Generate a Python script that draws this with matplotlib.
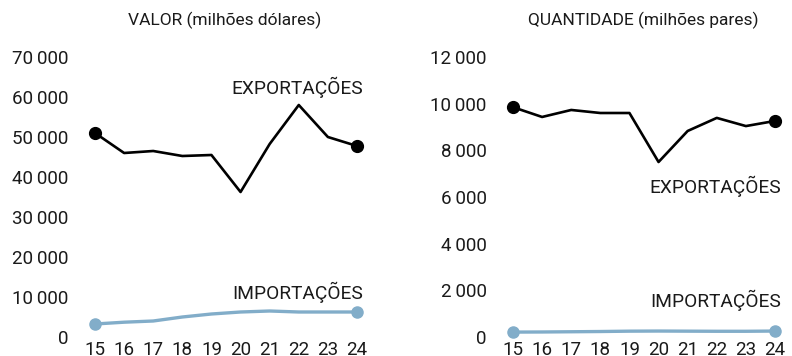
import matplotlib
matplotlib.use("Agg")
from matplotlib import pyplot as plt
from matplotlib.ticker import FuncFormatter

plt.rcParams["font.family"] = ["Roboto", "DejaVu Sans"]

years = [15, 16, 17, 18, 19, 20, 21, 22, 23, 24]
year_labels = ["15", "16", "17", "18", "19", "20", "21", "22", "23", "24"]

valor_exp = [51000, 46000, 46500, 45250, 45500, 36250, 48250, 58000, 50000, 47750]
valor_imp = [3250, 3700, 4000, 5000, 5750, 6250, 6500, 6250, 6250, 6250]

qtd_exp = [9850, 9430, 9730, 9600, 9600, 7500, 8830, 9390, 9040, 9260]
qtd_imp = [210, 215, 225, 235, 250, 255, 250, 245, 245, 255]

valor_ticks = [0, 10000, 20000, 30000, 40000, 50000, 60000, 70000]
qtd_ticks = [0, 2000, 4000, 6000, 8000, 10000, 12000]

BLACK = "#000000"
BLUE = "#82adc9"
TXT = "#1a1a1a"
W, H = 792, 356


def thousands(v, pos):
    return f"{int(v):,}".replace(",", "\u2009")


def draw_panel(ax, exp, imp, ticks, exp_label_y, imp_label_y):
    ax.plot(years, exp, color=BLACK, lw=1.9, clip_on=False)
    ax.plot([years[0], years[-1]], [exp[0], exp[-1]], "o", color=BLACK, ms=8.5, clip_on=False)
    ax.plot(years, imp, color=BLUE, lw=2.4, clip_on=False)
    ax.plot([years[0], years[-1]], [imp[0], imp[-1]], "o", color=BLUE, ms=8, clip_on=False)

    ax.set_xlim(years[0], years[-1])
    ax.set_ylim(ticks[0], ticks[-1])
    ax.set_xticks(years)
    ax.set_xticklabels(year_labels)
    ax.set_yticks(ticks)
    ax.yaxis.set_major_formatter(FuncFormatter(thousands))
    ax.tick_params(axis="y", length=0, pad=19, labelsize=13.5, colors=TXT)
    ax.tick_params(axis="x", length=0, pad=3, labelsize=13.5, colors=TXT)
    for s in ax.spines.values():
        s.set_visible(False)
    ax.patch.set_alpha(0)

    ax.text(years[-1] + 0.2, exp_label_y, "EXPORTAÇÕES", ha="right", va="center",
            fontsize=13.8, color=TXT)
    ax.text(years[-1] + 0.2, imp_label_y, "IMPORTAÇÕES", ha="right", va="center",
            fontsize=13.8, color=TXT)
    return ax


fig = plt.figure(figsize=(W / 100, H / 100), dpi=100)

ax1 = fig.add_axes([95 / W, (H - 337) / H, 262 / W, 280 / H])
draw_panel(ax1, valor_exp, valor_imp, valor_ticks, 62500, 11250)
fig.text(225 / W, 1 - 20 / H, "VALOR (milhões dólares)", ha="center", va="center",
         fontsize=12.5, color=TXT)

ax2 = fig.add_axes([513 / W, (H - 337) / H, 262 / W, 280 / H])
draw_panel(ax2, qtd_exp, qtd_imp, qtd_ticks, 6450, 1550)
fig.text(643 / W, 1 - 20 / H, "QUANTIDADE (milhões pares)", ha="center", va="center",
         fontsize=12.5, color=TXT)

fig.savefig("out.png", dpi=100)
